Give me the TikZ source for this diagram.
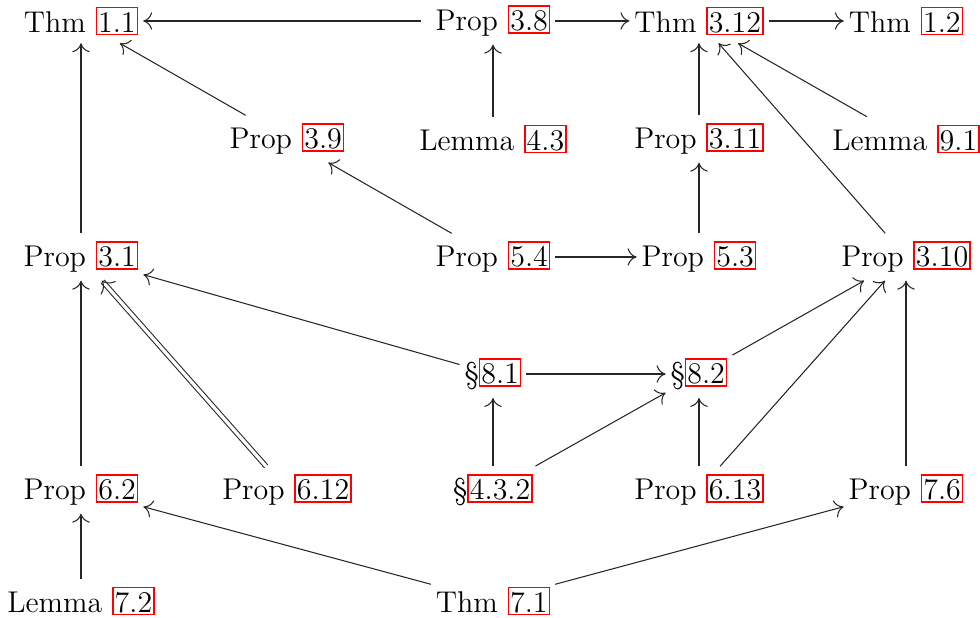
\documentclass[tikz,border=0pt]{standalone}
\usetikzlibrary{arrows.meta}
\newcommand{\lk}[1]{\leavevmode\rlap{\color{red}\setlength{\fboxsep}{0pt}\setlength{\fboxrule}{0.6pt}\fbox{\rule[-0.6pt]{0pt}{10.2pt}\kern0.4pt\phantom{#1}\kern0.4pt}}\kern1pt#1\kern1pt}
\begin{document}
\begin{tikzpicture}[x=0.4pt,y=-0.4pt,
  nd/.style={inner xsep=1.8pt, inner ysep=3pt, font=\fontsize{12}{14}\selectfont},
  ar/.style={-{Computer Modern Rightarrow[length=3.6pt,width=7pt]}, line width=0.42pt, draw=black!85},
  dar/.style={-{Computer Modern Rightarrow[length=4pt,width=8pt]}, line width=0.42pt, draw=black!85, double, double distance=1.3pt}]
\useasboundingbox (0,0) rectangle (980,618);
% row 1
\node[nd] (t11) at (81,21) {Thm \lk{1.1}};
\node[nd] (p38) at (493,21) {Prop \lk{3.8}};
\node[nd] (t312) at (699,21) {Thm \lk{3.12}};
\node[nd] (t12) at (906,21) {Thm \lk{1.2}};
% row 2
\node[nd] (p39) at (287,139) {Prop \lk{3.9}};
\node[nd] (l43) at (493,139) {Lemma \lk{4.3}};
\node[nd] (p311) at (699,139) {Prop \lk{3.11}};
\node[nd] (l91) at (906,139) {Lemma \lk{9.1}};
% row 3
\node[nd] (p31) at (81,257) {Prop \lk{3.1}};
\node[nd] (p54) at (493,257) {Prop \lk{5.4}};
\node[nd] (p53) at (699,257) {Prop \lk{5.3}};
\node[nd] (p310) at (906,257) {Prop \lk{3.10}};
% row 4
\node[nd] (s81) at (493,374) {\S\lk{8.1}};
\node[nd] (s82) at (699,374) {\S\lk{8.2}};
% row 5
\node[nd] (p62) at (81,490) {Prop \lk{6.2}};
\node[nd] (p612) at (287,490) {Prop \lk{6.12}};
\node[nd] (s432) at (493,490) {\S\lk{4.3.2}};
\node[nd] (p613) at (699,490) {Prop \lk{6.13}};
\node[nd] (p76) at (906,490) {Prop \lk{7.6}};
% row 6
\node[nd] (l72) at (81,601) {Lemma \lk{7.2}};
\node[nd] (t71) at (493,601) {Thm \lk{7.1}};
% arrows
\draw[ar, shorten <=4pt] (p38) -- (t11);
\draw[ar] (p38) -- (t312);
\draw[ar] (t312) -- (t12);
\draw[ar] (p31) -- (t11);
\draw[ar] (p39) -- (t11);
\draw[ar] (l43) -- (p38);
\draw[ar] (p311) -- (t312);
\draw[ar] (l91) -- (t312);
\draw[ar] (p310) -- (t312);
\draw[ar] (p54) -- (p39);
\draw[ar] (p54) -- (p53);
\draw[ar] (p53) -- (p311);
\draw[ar] (s81) -- (p31);
\draw[ar] (s81) -- (s82);
\draw[ar] (s82) -- (p310);
\draw[ar] (p62) -- (p31);
\draw[dar] (p612) -- (p31);
\draw[ar] (s432) -- (s81);
\draw[ar] (s432) -- (s82);
\draw[ar] (p613) -- (s82);
\draw[ar] (p613) -- (p310);
\draw[ar] (p76) -- (p310);
\draw[ar] (l72) -- (p62);
\draw[ar] (t71) -- (p62);
\draw[ar] (t71) -- (p76);
\end{tikzpicture}
\end{document}
